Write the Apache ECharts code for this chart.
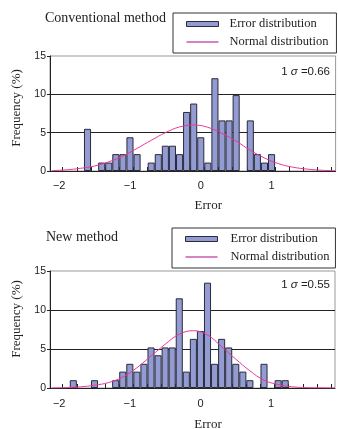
<!DOCTYPE html>
<html><head><meta charset="utf-8">
<script src="https://cdn.jsdelivr.net/npm/echarts@6/dist/echarts.min.js"></script>
<style>html,body{margin:0;padding:0;background:#fff}#c{width:338px;height:429px}</style>
</head><body><div id="c"></div>
<script>
// ---- data ----
const xLabelValues = [-2, -1, 0, 1];
const xTickValues = [-1.95, -1.75, -1.55, -1.35, -1.15, -0.95, -0.75, -0.55, -0.35, -0.15,
                     0.05, 0.25, 0.45, 0.65, 0.85, 1.05, 1.25, 1.45, 1.65, 1.85];

const convBins = [-1.6, -1.4, -1.3, -1.2, -1.1, -1.0, -0.9, -0.7, -0.6, -0.5, -0.4, -0.3,
                  -0.2, -0.1, 0.0, 0.1, 0.2, 0.3, 0.4, 0.5, 0.7, 0.8, 0.9, 1.0];
const convFreq = [5.5, 1.1, 1.1, 2.2, 2.2, 4.4, 2.2, 1.1, 2.2, 3.3, 3.3, 2.2,
                  7.7, 8.8, 4.4, 1.1, 12.1, 6.6, 6.6, 9.9, 6.6, 2.2, 1.1, 2.2];

const newBins = [-1.8, -1.5, -1.2, -1.1, -1.0, -0.9, -0.8, -0.7, -0.6, -0.5, -0.4, -0.3, -0.2,
                 -0.1, 0.0, 0.1, 0.2, 0.3, 0.4, 0.5, 0.6, 0.7, 0.9, 1.1, 1.2];
const newFreq = [1.0, 1.0, 1.0, 2.1, 3.1, 2.1, 3.1, 5.2, 4.2, 5.2, 5.2, 11.5, 2.1,
                 6.3, 7.3, 13.5, 3.1, 6.3, 5.2, 3.1, 2.1, 1.0, 3.1, 1.0, 1.0];

const curveX = [-2.1, -1.9, -1.7, -1.5, -1.3, -1.1, -0.9, -0.7, -0.5, -0.3, -0.1,
                0.1, 0.3, 0.5, 0.7, 0.9, 1.1, 1.3, 1.5, 1.7, 1.9];
const convCurve = [0.05, 0.15, 0.35, 0.65, 1.2, 1.95, 2.95, 4.0, 5.0, 5.75, 6.0,
                   5.7, 4.9, 3.9, 2.7, 1.7, 0.95, 0.5, 0.25, 0.1, 0.03];
const newCurve = [0.0, 0.05, 0.15, 0.35, 0.7, 1.4, 2.6, 4.1, 5.6, 6.9, 7.35,
                  6.8, 5.3, 3.7, 2.2, 1.0, 0.45, 0.15, 0.05, 0.02, 0.0];

const convSigma = '0.66';
const newSigma = '0.55';
const chartTitles = ['Conventional method', 'New method'];
const seriesNames = ['Error distribution', 'Normal distribution'];

// ---- styling ----
const SERIF = '"Liberation Serif", "Times New Roman", serif';
const SANS = '"Liberation Sans", Arial, sans-serif';
const INK = '#222';
const BAR_FILL = '#929cd3', BAR_EDGE = '#2a2a3a', CURVE = '#e8399b', LEG_LINE = '#d683c4';

function xAxisFor(gridIndex, labelMargin, nameGap) {
  return {
    type: 'value', gridIndex, min: -2.13, max: 1.905,
    axisLine: {show: true, onZero: false, lineStyle: {color: INK, width: 1}},
    axisTick: {show: true, inside: true, length: 4, customValues: xTickValues, lineStyle: {color: INK}},
    axisLabel: {customValues: xLabelValues, margin: labelMargin, fontFamily: SANS, fontSize: 11, color: INK,
      formatter: v => v < 0 ? '\u2212' + Math.abs(v) : String(v)},
    splitLine: {show: false},
    name: 'Error', nameLocation: 'middle', nameGap,
    nameTextStyle: {fontFamily: SERIF, fontSize: 13, color: INK, padding: [0, 0, 0, 31]}
  };
}
function yAxisFor(gridIndex, namePad) {
  return {
    type: 'value', gridIndex, min: 0, max: 15, interval: 5,
    axisLine: {show: true, onZero: false, lineStyle: {color: INK}},
    axisTick: {show: true, inside: false, length: 3, lineStyle: {color: INK}},
    axisLabel: {margin: 4, fontFamily: SANS, fontSize: 10.5, color: INK},
    splitLine: {show: true, showMinLine: false, showMaxLine: false, lineStyle: {color: INK, width: 1}},
    name: 'Frequency (%)', nameLocation: 'middle', nameGap: 23.5,
    nameTextStyle: {fontFamily: SERIF, fontSize: 13, color: INK, padding: [0, 0, 0, namePad]}
  };
}
function barSeries(idx, bins, freq) {
  return {name: seriesNames[0], type: 'bar', xAxisIndex: idx, yAxisIndex: idx,
    data: bins.map((b, i) => [b, freq[i]]), barWidth: '100%',
    itemStyle: {color: BAR_FILL, borderColor: BAR_EDGE, borderWidth: 1}, z: 2};
}
function curveSeries(idx, ys) {
  return {name: seriesNames[1], type: 'line', xAxisIndex: idx, yAxisIndex: idx,
    data: curveX.map((x, i) => [x, ys[i]]), smooth: 0.4, symbol: 'none',
    lineStyle: {color: CURVE, width: 1}, itemStyle: {color: CURVE}, z: 3};
}
function legendFor(left, top, textPad, rightPad) {
  return {orient: 'vertical', left, top, padding: [4, rightPad, 4, 13], itemGap: 4,
    itemWidth: 32, itemHeight: 5, backgroundColor: '#fff', borderColor: '#333', borderWidth: 1,
    selectedMode: false,
    textStyle: {fontFamily: SERIF, fontSize: 12.5, color: INK, lineHeight: 14, padding: [0, 0, 0, textPad]},
    data: [
      {name: seriesNames[0], icon: 'rect', itemStyle: {color: BAR_FILL, borderColor: BAR_EDGE, borderWidth: 1}},
      {name: seriesNames[1], icon: 'path://M0 0H32V2H0Z', itemStyle: {color: LEG_LINE, borderWidth: 0}}
    ]};
}
function sigmaTitle(val, top) {
  return {text: '1 {s|σ} =' + val, right: 8, top, padding: 0,
    textStyle: {fontFamily: SANS, fontSize: 11.5, fontWeight: 'normal', color: INK, lineHeight: 16,
      rich: {s: {fontFamily: SANS, fontSize: 11.5, fontStyle: 'italic', color: INK, lineHeight: 16}}}};
}
function chartTitle(text, left, top) {
  return {text, left, top, padding: 0,
    textStyle: {fontFamily: SERIF, fontSize: 14, fontWeight: 'normal', color: INK, lineHeight: 16}};
}

const chart = echarts.init(document.getElementById('c'), null, {renderer: 'canvas'});
chart.setOption({
  animation: false,
  backgroundColor: '#fff',
  title: [chartTitle(chartTitles[0], 45, 10), chartTitle(chartTitles[1], 46, 229),
          sigmaTitle(convSigma, 64), sigmaTitle(newSigma, 277)],
  legend: [legendFor(173, 13, 6, 8), legendFor(172, 228, 8, 6)],
  grid: [
    {left: 50, top: 56, width: 285.6, height: 115, show: true, borderColor: '#999', borderWidth: 1, outerBoundsMode: 'none'},
    {left: 50, top: 271, width: 285, height: 117, show: true, borderColor: '#999', borderWidth: 1, outerBoundsMode: 'none'}
  ],
  xAxis: [xAxisFor(0, 9, 28.5), xAxisFor(1, 10.5, 30)],
  yAxis: [yAxisFor(0, 11), yAxisFor(1, 21)],
  series: [barSeries(0, convBins, convFreq), curveSeries(0, convCurve),
           barSeries(1, newBins, newFreq), curveSeries(1, newCurve)]
});
</script></body></html>
